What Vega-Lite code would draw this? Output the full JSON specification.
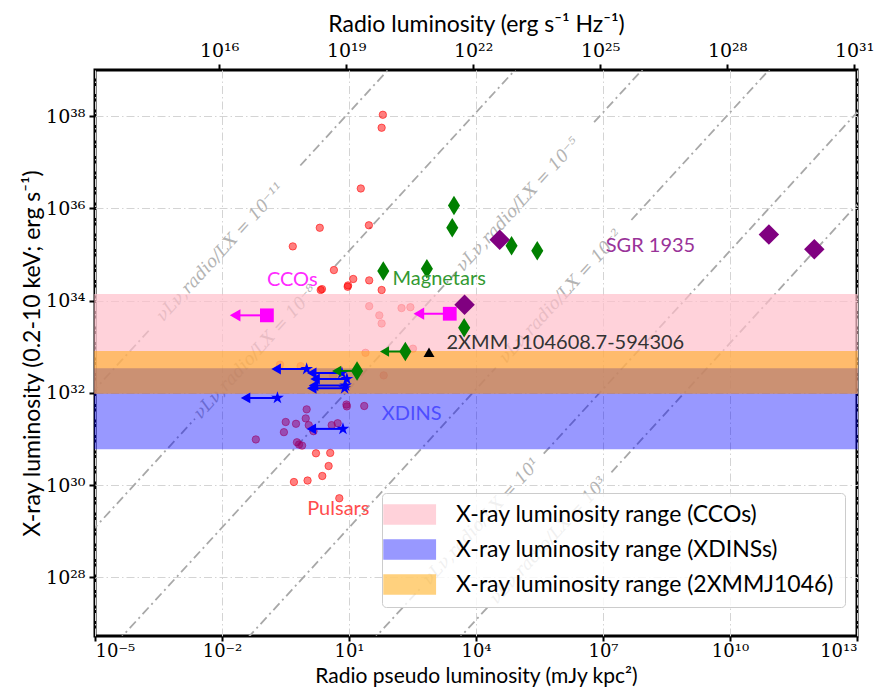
{
  "$schema": "https://vega.github.io/schema/vega-lite/v6.json",
  "width": 762,
  "height": 566,
  "autosize": {"type": "none"},
  "padding": {"left": 95, "top": 70, "right": 18, "bottom": 58},
  "background": "white",
  "config": {
    "view": {"stroke": "black", "strokeWidth": 3},
    "axis": {
      "labelFont": "DejaVu Serif", "labelFontSize": 19, "labelColor": "black",
      "titleFont": "Lato", "titleFontSize": 23, "titleFontWeight": "normal", "titleColor": "black",
      "tickColor": "black", "tickWidth": 2, "tickSize": 6, "domain": false,
      "gridColor": "#d4d4d4", "gridDash": [8, 3, 1.5, 3], "gridWidth": 1, "labelPadding": 4
    },
    "legend": {
      "title": null, "orient": "none", "legendX": 287, "legendY": 423,
      "symbolType": "M-2.05,-1H3.35V1H-2.05Z", "symbolSize": 361, "symbolStrokeWidth": 1.5,
      "labelFont": "Lato", "labelFontSize": 23, "labelColor": "black", "labelOffset": 41, "labelLimit": 0,
      "rowPadding": 10, "padding": 10, "fillColor": "rgba(255,255,255,0.8)",
      "strokeColor": "#cccccc", "cornerRadius": 4
    }
  },
  "datasets": {
    "ratios": [
      {"seg": "m11a", "S": 1e-6, "L": 1.2e31}, {"seg": "m11a", "S": 1.95e-4, "L": 2.34e33},
      {"seg": "m11b", "S": 0.708, "L": 8.5e36}, {"seg": "m11b", "S": 100, "L": 1.2e39},
      {"seg": "m8a", "S": 1e-6, "L": 1.2e28}, {"seg": "m8a", "S": 2.29e-3, "L": 2.75e31},
      {"seg": "m8b", "S": 4.68, "L": 5.6e34}, {"seg": "m8b", "S": 1e6, "L": 1.2e40},
      {"seg": "m5a", "S": 1e-6, "L": 1.2e25}, {"seg": "m5a", "S": 3630, "L": 4.4e34},
      {"seg": "m5b", "S": 6.17e6, "L": 7.4e37}, {"seg": "m5b", "S": 1e9, "L": 1.2e40},
      {"seg": "m2a", "S": 0.01, "L": 1.2e26}, {"seg": "m2a", "S": 2.95e4, "L": 3.55e32},
      {"seg": "m2b", "S": 4.68e7, "L": 5.6e35}, {"seg": "m2b", "S": 1e12, "L": 1.2e40},
      {"seg": "p1a", "S": 1, "L": 1.2e25}, {"seg": "p1a", "S": 501, "L": 6.0e27},
      {"seg": "p1b", "S": 3.98e5, "L": 4.8e30}, {"seg": "p1b", "S": 1e14, "L": 1.2e39},
      {"seg": "p3a", "S": 100, "L": 1.2e25}, {"seg": "p3a", "S": 2e4, "L": 2.4e27},
      {"seg": "p3b", "S": 1.58e7, "L": 1.9e30}, {"seg": "p3b", "S": 1e14, "L": 1.2e37}
    ],
    "ratiolabels": [
      {"t": "νLν,radio/LX = 10⁻¹¹", "S": 9.3e-3, "L": 1.12e35},
      {"t": "νLν,radio/LX = 10⁻⁸", "S": 0.063, "L": 7.6e32},
      {"t": "νLν,radio/LX = 10⁻⁵", "S": 1e5, "L": 1.2e36},
      {"t": "νLν,radio/LX = 10⁻²", "S": 1.02e6, "L": 1.23e34},
      {"t": "νLν,radio/LX = 10¹", "S": 1.35e4, "L": 1.62e29},
      {"t": "νLν,radio/LX = 10³", "S": 5.25e5, "L": 6.3e28}
    ],
    "pulsars": [
      {"S": 63, "L": 1.07e38}, {"S": 59, "L": 5.6e37}, {"S": 19, "L": 2.7e36},
      {"S": 2.04, "L": 3.8e35}, {"S": 29.5, "L": 4.3e35}, {"S": 0.47, "L": 1.5e35},
      {"S": 4.4, "L": 4.6e34}, {"S": 12.6, "L": 2.95e34}, {"S": 30, "L": 2.75e34},
      {"S": 59, "L": 1.7e34}, {"S": 2.14, "L": 1.7e34}, {"S": 2.3, "L": 1.78e34},
      {"S": 9.3, "L": 2.0e34}, {"S": 9.5, "L": 2.14e34}, {"S": 30, "L": 7.6e33},
      {"S": 174, "L": 6.9e33}, {"S": 282, "L": 7.2e33}, {"S": 52, "L": 4.8e33},
      {"S": 59, "L": 3.2e33}, {"S": 24.5, "L": 7.4e32}, {"S": 324, "L": 9.1e32},
      {"S": 0.234, "L": 4.1e32}, {"S": 0.72, "L": 3.8e32}, {"S": 4.2, "L": 2.4e32},
      {"S": 66, "L": 2.4e32}, {"S": 8.7, "L": 5.6e31}, {"S": 8.9, "L": 5.1e31},
      {"S": 22.9, "L": 5.2e31}, {"S": 1.0, "L": 4.4e31}, {"S": 0.32, "L": 2.34e31},
      {"S": 0.56, "L": 2.14e31}, {"S": 0.95, "L": 2.8e31}, {"S": 1.12, "L": 2.0e31},
      {"S": 0.29, "L": 1.41e31}, {"S": 0.063, "L": 9.8e30}, {"S": 0.59, "L": 8.5e30},
      {"S": 0.66, "L": 7.6e30}, {"S": 0.78, "L": 7.2e30}, {"S": 3.9, "L": 2.0e31},
      {"S": 5.4, "L": 2.2e31}, {"S": 1.45, "L": 1.48e31}, {"S": 1.66, "L": 4.9e30},
      {"S": 3.6, "L": 5.0e30}, {"S": 3.3, "L": 2.6e30}, {"S": 2.34, "L": 1.58e30},
      {"S": 1.05, "L": 1.26e30}, {"S": 0.5, "L": 1.17e30}, {"S": 5.9, "L": 5.2e29}
    ],
    "bands": [
      {"band": "X-ray luminosity range (CCOs)", "lo": 1e32, "hi": 1.35e34},
      {"band": "X-ray luminosity range (XDINSs)", "lo": 6.2e30, "hi": 3.3e32},
      {"band": "X-ray luminosity range (2XMMJ1046)", "lo": 1e32, "hi": 7.8e32}
    ],
    "ccos": [
      {"S": 0.115, "Stip": 0.0204, "L": 4.8e33},
      {"S": 2400, "Stip": 447, "L": 5.2e33}
    ],
    "xdins": [
      {"S": 1.0, "Stip": 0.19, "L": 3.3e32},
      {"S": 6.8, "Stip": 1.32, "L": 2.7e32},
      {"S": 8.9, "Stip": 1.58, "L": 2.0e32},
      {"S": 8.3, "Stip": 1.45, "L": 1.45e32},
      {"S": 7.9, "Stip": 1.32, "L": 1.26e32},
      {"S": 0.204, "Stip": 0.036, "L": 7.8e31},
      {"S": 7.2, "Stip": 1.29, "L": 1.66e31}
    ],
    "magnetars": [
      {"S": 3020, "L": 1.15e36}, {"S": 2750, "L": 3.8e35}, {"S": 69200, "L": 1.55e35},
      {"S": 2.8e5, "L": 1.2e35}, {"S": 64.6, "L": 4.4e34}, {"S": 692, "L": 4.9e34},
      {"S": 5250, "L": 2.6e33},
      {"S": 214, "Stip": 69, "L": 7.9e32},
      {"S": 15.5, "Stip": 5.1, "L": 3.0e32}
    ],
    "sgr": [
      {"S": 36300, "L": 2.1e35}, {"S": 5370, "L": 8.1e33},
      {"S": 8.3e10, "L": 2.7e35}, {"S": 9.8e11, "L": 1.3e35}
    ],
    "xmm": [{"S": 776, "L": 7.6e32}],
    "notes": [
      {"t": "CCOs", "who": "cco", "S": 0.457, "L": 2.8e34},
      {"t": "Magnetars", "who": "mag", "S": 1350, "L": 2.95e34},
      {"t": "SGR 1935", "who": "sgr", "S": 1.32e8, "L": 1.55e35},
      {"t": "2XMM J104608.7-594306", "who": "xmm", "S": 1.29e6, "L": 1.2e33},
      {"t": "XDINS", "who": "xdins", "S": 302, "L": 3.55e31},
      {"t": "Pulsars", "who": "psr", "S": 5.6, "L": 3.1e29}
    ],
    "topticks": [{"R": 1e16}, {"R": 1e19}, {"R": 1e22}, {"R": 1e25}, {"R": 1e28}, {"R": 1e31}]
  },
  "layer": [
    {
      "layer": [
        {
          "data": {"name": "ratios"},
          "mark": {"type": "line", "clip": true, "color": "#a8a8a8", "strokeWidth": 1.8, "strokeDash": [9, 4, 2, 4]},
          "encoding": {
            "x": {"field": "S", "type": "quantitative", "scale": {"type": "log", "domain": [1e-5, 1e13], "nice": false}, "title": "Radio pseudo luminosity (mJy kpc²)",
              "axis": {"values": [1e-5, 1e-2, 10, 1e4, 1e7, 1e10, 1e13], "grid": true, "titlePadding": 5, "titleFontSize": 21, "labelFontSize": 18, "labelPadding": 1, "tickSize": 5,
                "labelExpr": "'10' + replace(replace(replace(replace(replace(replace(replace(replace(replace(replace(replace(toString(round(log(datum.value)/LN10)), regexp('-','g'),'⁻'), regexp('0','g'),'⁰'), regexp('1','g'),'¹'), regexp('2','g'),'²'), regexp('3','g'),'³'), regexp('4','g'),'⁴'), regexp('5','g'),'⁵'), regexp('6','g'),'⁶'), regexp('7','g'),'⁷'), regexp('8','g'),'⁸'), regexp('9','g'),'⁹')"}},
            "y": {"field": "L", "type": "quantitative", "scale": {"type": "log", "domain": [5.37e26, 1e39], "nice": false}, "title": "X-ray luminosity (0.2-10 keV; erg s⁻¹)",
              "axis": {"values": [1e28, 1e30, 1e32, 1e34, 1e36, 1e38], "grid": true, "titlePadding": 1,
                "labelExpr": "'10' + replace(replace(replace(replace(replace(replace(replace(replace(replace(replace(replace(toString(round(log(datum.value)/LN10)), regexp('-','g'),'⁻'), regexp('0','g'),'⁰'), regexp('1','g'),'¹'), regexp('2','g'),'²'), regexp('3','g'),'³'), regexp('4','g'),'⁴'), regexp('5','g'),'⁵'), regexp('6','g'),'⁶'), regexp('7','g'),'⁷'), regexp('8','g'),'⁸'), regexp('9','g'),'⁹')"}},
            "detail": {"field": "seg", "type": "nominal"}
          }
        },
        {
          "data": {"name": "ratiolabels"},
          "mark": {"type": "text", "font": "DejaVu Serif", "fontStyle": "italic", "fontSize": 17, "color": "#b3b3b3", "angle": -47.5, "align": "center", "baseline": "middle"},
          "encoding": {
            "x": {"field": "S", "type": "quantitative", "scale": {"type": "log", "domain": [1e-5, 1e13], "nice": false}, "title": "Radio pseudo luminosity (mJy kpc²)"},
            "y": {"field": "L", "type": "quantitative", "scale": {"type": "log", "domain": [5.37e26, 1e39], "nice": false}, "title": "X-ray luminosity (0.2-10 keV; erg s⁻¹)"},
            "text": {"field": "t", "type": "nominal"}
          }
        },
        {
          "data": {"name": "pulsars"},
          "mark": {"type": "point", "shape": "circle", "size": 55, "fill": "#ff0000", "fillOpacity": 0.5, "stroke": "#ff0000", "strokeOpacity": 0.55, "strokeWidth": 1},
          "encoding": {
            "x": {"field": "S", "type": "quantitative", "scale": {"type": "log", "domain": [1e-5, 1e13], "nice": false}, "title": "Radio pseudo luminosity (mJy kpc²)"},
            "y": {"field": "L", "type": "quantitative", "scale": {"type": "log", "domain": [5.37e26, 1e39], "nice": false}, "title": "X-ray luminosity (0.2-10 keV; erg s⁻¹)"}
          }
        },
        {
          "data": {"name": "bands"},
          "mark": {"type": "rect", "strokeWidth": 1.5},
          "encoding": {
            "x": {"value": 0},
            "x2": {"value": "width"},
            "y": {"field": "lo", "type": "quantitative", "scale": {"type": "log", "domain": [5.37e26, 1e39], "nice": false}, "title": "X-ray luminosity (0.2-10 keV; erg s⁻¹)"},
            "y2": {"field": "hi"},
            "fill": {"field": "band", "type": "nominal", "sort": null, "scale": {"domain": ["X-ray luminosity range (CCOs)", "X-ray luminosity range (XDINSs)", "X-ray luminosity range (2XMMJ1046)"], "range": ["#ffc0cb", "#0000ff", "#ffa500"]}},
            "stroke": {"field": "band", "type": "nominal", "sort": null, "scale": {"domain": ["X-ray luminosity range (CCOs)", "X-ray luminosity range (XDINSs)", "X-ray luminosity range (2XMMJ1046)"], "range": ["#ffc0cb", "#0000ff", "#ffa500"]}},
            "opacity": {"field": "band", "type": "nominal", "sort": null, "scale": {"type": "ordinal", "domain": ["X-ray luminosity range (CCOs)", "X-ray luminosity range (XDINSs)", "X-ray luminosity range (2XMMJ1046)"], "range": [0.7, 0.4, 0.5]}}
          }
        },
        {
          "data": {"name": "ccos"},
          "mark": {"type": "rule", "color": "#ff00ff", "strokeWidth": 2},
          "encoding": {
            "x": {"field": "S", "type": "quantitative", "scale": {"type": "log", "domain": [1e-5, 1e13], "nice": false}, "title": "Radio pseudo luminosity (mJy kpc²)"},
            "x2": {"field": "Stip"},
            "y": {"field": "L", "type": "quantitative", "scale": {"type": "log", "domain": [5.37e26, 1e39], "nice": false}, "title": "X-ray luminosity (0.2-10 keV; erg s⁻¹)"}
          }
        },
        {
          "data": {"name": "ccos"},
          "mark": {"type": "point", "shape": "triangle-left", "size": 150, "filled": true, "color": "#ff00ff", "opacity": 1},
          "encoding": {
            "x": {"field": "Stip", "type": "quantitative", "scale": {"type": "log", "domain": [1e-5, 1e13], "nice": false}, "title": "Radio pseudo luminosity (mJy kpc²)"},
            "y": {"field": "L", "type": "quantitative", "scale": {"type": "log", "domain": [5.37e26, 1e39], "nice": false}, "title": "X-ray luminosity (0.2-10 keV; erg s⁻¹)"}
          }
        },
        {
          "data": {"name": "ccos"},
          "mark": {"type": "point", "shape": "square", "size": 190, "filled": true, "color": "#ff00ff", "opacity": 1},
          "encoding": {
            "x": {"field": "S", "type": "quantitative", "scale": {"type": "log", "domain": [1e-5, 1e13], "nice": false}, "title": "Radio pseudo luminosity (mJy kpc²)"},
            "y": {"field": "L", "type": "quantitative", "scale": {"type": "log", "domain": [5.37e26, 1e39], "nice": false}, "title": "X-ray luminosity (0.2-10 keV; erg s⁻¹)"}
          }
        },
        {
          "data": {"name": "xdins"},
          "mark": {"type": "rule", "color": "#0000ff", "strokeWidth": 2},
          "encoding": {
            "x": {"field": "S", "type": "quantitative", "scale": {"type": "log", "domain": [1e-5, 1e13], "nice": false}, "title": "Radio pseudo luminosity (mJy kpc²)"},
            "x2": {"field": "Stip"},
            "y": {"field": "L", "type": "quantitative", "scale": {"type": "log", "domain": [5.37e26, 1e39], "nice": false}, "title": "X-ray luminosity (0.2-10 keV; erg s⁻¹)"}
          }
        },
        {
          "data": {"name": "xdins"},
          "mark": {"type": "point", "shape": "triangle-left", "size": 120, "filled": true, "color": "#0000ff", "opacity": 1},
          "encoding": {
            "x": {"field": "Stip", "type": "quantitative", "scale": {"type": "log", "domain": [1e-5, 1e13], "nice": false}, "title": "Radio pseudo luminosity (mJy kpc²)"},
            "y": {"field": "L", "type": "quantitative", "scale": {"type": "log", "domain": [5.37e26, 1e39], "nice": false}, "title": "X-ray luminosity (0.2-10 keV; erg s⁻¹)"}
          }
        },
        {
          "data": {"name": "xdins"},
          "mark": {"type": "point", "shape": "M0,-1L0.2245,-0.309L0.951,-0.309L0.363,0.118L0.588,0.809L0,0.382L-0.588,0.809L-0.363,0.118L-0.951,-0.309L-0.2245,-0.309Z", "size": 180, "filled": true, "color": "#0000ff", "opacity": 1},
          "encoding": {
            "x": {"field": "S", "type": "quantitative", "scale": {"type": "log", "domain": [1e-5, 1e13], "nice": false}, "title": "Radio pseudo luminosity (mJy kpc²)"},
            "y": {"field": "L", "type": "quantitative", "scale": {"type": "log", "domain": [5.37e26, 1e39], "nice": false}, "title": "X-ray luminosity (0.2-10 keV; erg s⁻¹)"}
          }
        },
        {
          "data": {"name": "magnetars"},
          "transform": [{"filter": "isValid(datum.Stip)"}],
          "mark": {"type": "rule", "color": "#008000", "strokeWidth": 2},
          "encoding": {
            "x": {"field": "S", "type": "quantitative", "scale": {"type": "log", "domain": [1e-5, 1e13], "nice": false}, "title": "Radio pseudo luminosity (mJy kpc²)"},
            "x2": {"field": "Stip"},
            "y": {"field": "L", "type": "quantitative", "scale": {"type": "log", "domain": [5.37e26, 1e39], "nice": false}, "title": "X-ray luminosity (0.2-10 keV; erg s⁻¹)"}
          }
        },
        {
          "data": {"name": "magnetars"},
          "transform": [{"filter": "isValid(datum.Stip)"}],
          "mark": {"type": "point", "shape": "triangle-left", "size": 110, "filled": true, "color": "#008000", "opacity": 1},
          "encoding": {
            "x": {"field": "Stip", "type": "quantitative", "scale": {"type": "log", "domain": [1e-5, 1e13], "nice": false}, "title": "Radio pseudo luminosity (mJy kpc²)"},
            "y": {"field": "L", "type": "quantitative", "scale": {"type": "log", "domain": [5.37e26, 1e39], "nice": false}, "title": "X-ray luminosity (0.2-10 keV; erg s⁻¹)"}
          }
        },
        {
          "data": {"name": "magnetars"},
          "mark": {"type": "point", "shape": "M0,-1L0.62,0L0,1L-0.62,0Z", "size": 380, "filled": true, "color": "#008000", "opacity": 1},
          "encoding": {
            "x": {"field": "S", "type": "quantitative", "scale": {"type": "log", "domain": [1e-5, 1e13], "nice": false}, "title": "Radio pseudo luminosity (mJy kpc²)"},
            "y": {"field": "L", "type": "quantitative", "scale": {"type": "log", "domain": [5.37e26, 1e39], "nice": false}, "title": "X-ray luminosity (0.2-10 keV; erg s⁻¹)"}
          }
        },
        {
          "data": {"name": "sgr"},
          "mark": {"type": "point", "shape": "diamond", "size": 420, "filled": true, "color": "#800080", "opacity": 1},
          "encoding": {
            "x": {"field": "S", "type": "quantitative", "scale": {"type": "log", "domain": [1e-5, 1e13], "nice": false}, "title": "Radio pseudo luminosity (mJy kpc²)"},
            "y": {"field": "L", "type": "quantitative", "scale": {"type": "log", "domain": [5.37e26, 1e39], "nice": false}, "title": "X-ray luminosity (0.2-10 keV; erg s⁻¹)"}
          }
        },
        {
          "data": {"name": "xmm"},
          "mark": {"type": "point", "shape": "triangle-up", "size": 120, "filled": true, "color": "#000000", "opacity": 1},
          "encoding": {
            "x": {"field": "S", "type": "quantitative", "scale": {"type": "log", "domain": [1e-5, 1e13], "nice": false}, "title": "Radio pseudo luminosity (mJy kpc²)"},
            "y": {"field": "L", "type": "quantitative", "scale": {"type": "log", "domain": [5.37e26, 1e39], "nice": false}, "title": "X-ray luminosity (0.2-10 keV; erg s⁻¹)"}
          }
        },
        {
          "data": {"name": "notes"},
          "mark": {"type": "text", "font": "Lato", "fontSize": 20, "align": "center", "baseline": "middle"},
          "encoding": {
            "x": {"field": "S", "type": "quantitative", "scale": {"type": "log", "domain": [1e-5, 1e13], "nice": false}, "title": "Radio pseudo luminosity (mJy kpc²)"},
            "y": {"field": "L", "type": "quantitative", "scale": {"type": "log", "domain": [5.37e26, 1e39], "nice": false}, "title": "X-ray luminosity (0.2-10 keV; erg s⁻¹)"},
            "text": {"field": "t", "type": "nominal"},
            "color": {"field": "who", "type": "nominal", "legend": null, "scale": {"domain": ["cco", "mag", "sgr", "xmm", "xdins", "psr"], "range": ["#ff2bff", "#339933", "#993399", "#333333", "#4d4dff", "#ff4d4d"]}}
          }
        }
      ]
    },
    {
      "data": {"name": "topticks"},
      "mark": {"type": "tick", "opacity": 0},
      "encoding": {
        "x": {"field": "R", "type": "quantitative", "scale": {"type": "log", "domain": [1.17e13, 1.17e31], "nice": false}, "title": "Radio luminosity (erg s⁻¹ Hz⁻¹)",
          "axis": {"orient": "top", "values": [1e16, 1e19, 1e22, 1e25, 1e28, 1e31], "grid": false, "titlePadding": 5,
            "labelExpr": "'10' + replace(replace(replace(replace(replace(replace(replace(replace(replace(replace(replace(toString(round(log(datum.value)/LN10)), regexp('-','g'),'⁻'), regexp('0','g'),'⁰'), regexp('1','g'),'¹'), regexp('2','g'),'²'), regexp('3','g'),'³'), regexp('4','g'),'⁴'), regexp('5','g'),'⁵'), regexp('6','g'),'⁶'), regexp('7','g'),'⁷'), regexp('8','g'),'⁸'), regexp('9','g'),'⁹')"}}
      }
    }
  ],
  "resolve": {"scale": {"x": "independent"}, "axis": {"x": "independent"}}
}
